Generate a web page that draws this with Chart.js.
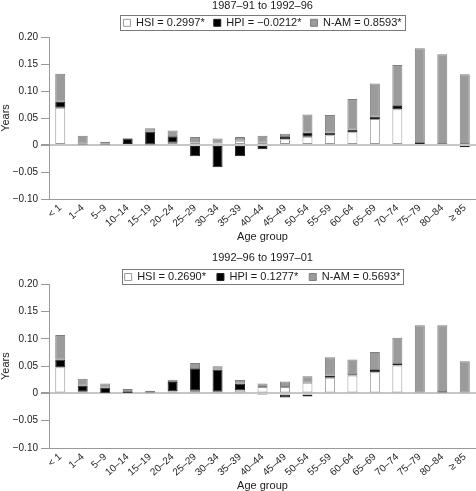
<!DOCTYPE html>
<html>
<head>
<meta charset="utf-8">
<script src="https://cdn.jsdelivr.net/npm/chart.js@4/dist/chart.umd.min.js"></script>
<style>
  html, body { margin:0; padding:0; background:#fff; }
  #wrap { position:relative; width:476px; height:491px; overflow:hidden; }
  .panel { position:absolute; left:0; width:476px; }
  canvas { display:block; }
</style>
</head>
<body>
<div id="wrap">
  <div class="panel" style="top:0px;height:245px;"><canvas id="c1" width="476" height="245"></canvas></div>
  <div class="panel" style="top:245px;height:246px;"><canvas id="c2" width="476" height="246"></canvas></div>
</div>
<script>
// ---- Data ----
const ageGroups = ['< 1','1–4','5–9','10–14','15–19','20–24','25–29','30–34','35–39','40–44','45–49','50–54','55–59','60–64','65–69','70–74','75–79','80–84','≥ 85'];
const yTicks = [-0.10, -0.05, 0, 0.05, 0.10, 0.15, 0.20];

const title1 = '1987–91 to 1992–96';
const legend1 = ['HSI = 0.2997*', 'HPI = −0.0212*', 'N-AM = 0.8593*'];
const hsi1 = [0.069, 0.001, 0.001, 0.002, 0.001, 0.004, 0.005, 0.003, 0.008, 0.004, 0.0105, 0.0155, 0.018, 0.0235, 0.048, 0.066, 0, 0, 0];
const hpi1 = [0.011, 0.002, 0.002, 0.010, 0.024, 0.012, -0.021, -0.041, -0.021, -0.008, 0.0055, 0.007, 0.005, 0.005, 0.005, 0.006, 0.005, 0, -0.004];
const nam1 = [0.052, 0.014, 0.003, 0.001, 0.006, 0.011, 0.010, 0.009, 0.007, 0.013, 0.005, 0.034, 0.0325, 0.0565, 0.061, 0.076, 0.174, 0.168, 0.131];

const title2 = '1992–96 to 1997–01';
const legend2 = ['HSI = 0.2690*', 'HPI = 0.1277*', 'N-AM = 0.5693*'];
const hsi2 = [0.048, 0.003, 0.001, 0.001, 0, 0.004, 0.005, 0.003, 0.006, 0.012, 0.012, 0.0195, 0.0287, 0.033, 0.039, 0.051, 0, 0, 0];
const hpi2 = [0.014, 0.011, 0.010, 0.003, 0.004, 0.017, 0.041, 0.041, 0.012, -0.003, -0.0073, -0.0055, 0.0036, 0.002, 0.004, 0.003, 0, 0.004, 0];
const nam2 = [0.045, 0.013, 0.007, 0.004, 0.001, 0.004, 0.010, 0.006, 0.0064, 0.006, 0.010, 0.0122, 0.0342, 0.027, 0.033, 0.048, 0.125, 0.121, 0.059];

// ---- Styling ----
const FONT = "'Liberation Sans', Arial, Helvetica, sans-serif";
const TXT = '#1a1a1a';
const AXIS = '#9a9a9a';

const legendBorder = {
  id: 'legendBorder',
  afterDraw(chart) {
    const L = chart.legend;
    if (!L || !L.lineWidths) return;
    const p = L.options.labels.padding;
    const lw = L.lineWidths[0];
    const x0 = (L.left + p + L.right - lw) / 2;
    const x1 = x0 + lw - p;
    const y0 = L.top + p;
    const ctx = chart.ctx;
    ctx.save();
    ctx.strokeStyle = '#7a7a7a';
    ctx.lineWidth = 1;
    const left = Math.round(x0 - 3) + 0.5;
    const right = Math.round(x1 + 3) + 0.5;
    const top = Math.round(y0 - 2.5) + 0.5;
    ctx.strokeRect(left, top, right - left, 15);
    ctx.restore();
  }
};

function makePanel(id, titleText, legendTexts, hsi, hpi, nam, lp) {
  const tickFmt = v => {
    if (Math.abs(v) < 1e-9) return '0';
    return (v < 0 ? '−' : '') + Math.abs(v).toFixed(2);
  };
  return new Chart(document.getElementById(id), {
    type: 'bar',
    data: {
      labels: ageGroups,
      datasets: [
        { label: legendTexts[0], data: hsi, backgroundColor: '#ffffff', borderColor: '#9a9a9a', borderWidth: 1, borderSkipped: false },
        { label: legendTexts[1], data: hpi, backgroundColor: '#000000', borderColor: '#222222', borderWidth: 1, borderSkipped: false },
        { label: legendTexts[2], data: nam, backgroundColor: '#9b9b9b', borderColor: '#7f7f7f', borderWidth: 1, borderSkipped: false }
      ]
    },
    options: {
      responsive: false,
      animation: false,
      devicePixelRatio: 1,
      layout: { padding: 0 },
      datasets: { bar: { barPercentage: 0.445, categoryPercentage: 1.0 } },
      plugins: {
        tooltip: { enabled: false },
        title: {
          display: true, text: titleText, fullSize: false, color: TXT,
          font: { family: FONT, size: 11, weight: 'normal' },
          padding: { top: lp.titleTop, bottom: lp.titleBottom }
        },
        legend: {
          display: true, position: 'top', fullSize: false, maxHeight: lp.legendH,
          labels: {
            color: TXT, boxWidth: 7, boxHeight: 7, padding: lp.legPad,
            font: { family: FONT, size: 11 }
          }
        }
      },
      scales: {
        x: {
          stacked: true,
          grid: { display: false, drawTicks: false },
          border: { display: true, color: AXIS, width: 1 },
          ticks: { color: TXT, font: { family: FONT, size: 10 }, minRotation: 42, maxRotation: 42, autoSkip: false, padding: 3 },
          title: { display: true, text: 'Age group', color: TXT, font: { family: FONT, size: 11 }, padding: { top: 0, bottom: lp.xTitleBottom } },
          afterFit: s => { s.height = lp.xH; }
        },
        y: {
          stacked: true,
          min: -0.10, max: 0.20,
          afterBuildTicks: s => { s.ticks = yTicks.map(v => ({ value: v })); },
          grid: {
            drawOnChartArea: true,
            color: c => (c.tick && Math.abs(c.tick.value) < 1e-9) ? '#c6c6c6' : 'rgba(0,0,0,0)',
            lineWidth: c => (c.tick && Math.abs(c.tick.value) < 1e-9) ? 2 : 1,
            tickColor: AXIS, tickLength: 8
          },
          border: { display: true, color: AXIS, width: 1 },
          ticks: { color: TXT, font: { family: FONT, size: 10 }, padding: 3, callback: tickFmt },
          title: { display: true, text: 'Years', color: TXT, font: { family: FONT, size: 11 }, padding: { top: -1, bottom: 0 } },
          afterFit: s => { s.width = 49; }
        }
      }
    },
    plugins: [legendBorder]
  });
}

makePanel('c1', title1, legend1, hsi1, hpi1, nam1, { titleTop: -1, titleBottom: -3.9, legendH: 28.7, legPad: 9, xH: 46, xTitleBottom: 1.4 });
makePanel('c2', title2, legend2, hsi2, hpi2, nam2, { titleTop: 6.4, titleBottom: -4.1, legendH: 23.8, legPad: 11, xH: 43, xTitleBottom: -1.6 });
</script>
</body>
</html>
